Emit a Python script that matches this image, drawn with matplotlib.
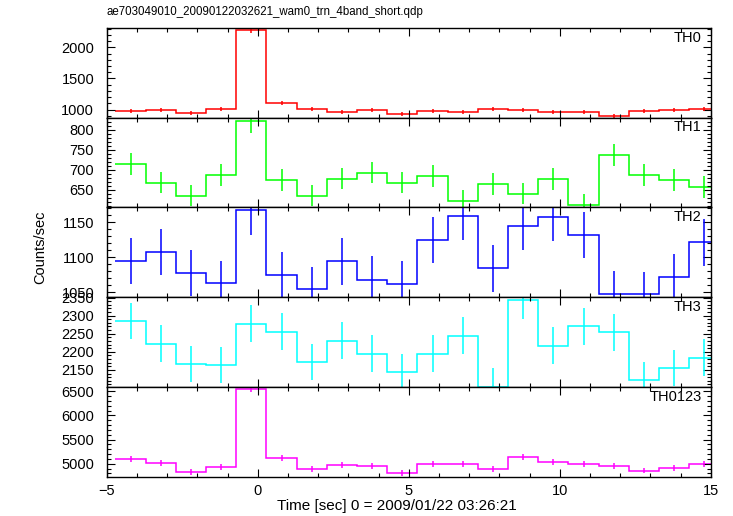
import matplotlib
matplotlib.use("Agg")
import matplotlib.pyplot as plt
from matplotlib.ticker import MultipleLocator

TITLE = "ae703049010_20090122032621_wam0_trn_4band_short.qdp"
XLABEL = "Time [sec] 0 = 2009/01/22 03:26:21"
YLABEL = "Counts/sec"

# bin edges and centres (sec), 1 s bins
edges = [-4.71, -3.71, -2.71, -1.71, -0.71, 0.29, 1.29, 2.29, 3.29, 4.29, 5.29,
         6.29, 7.29, 8.29, 9.29, 10.29, 11.29, 12.29, 13.29, 14.29, 15.29]
centers = [-4.21, -3.21, -2.21, -1.21, -0.21, 0.79, 1.79, 2.79, 3.79, 4.79,
           5.79, 6.79, 7.79, 8.79, 9.79, 10.79, 11.79, 12.79, 13.79, 14.79]

th0 = [984, 995, 942, 1006, 2281, 1108, 1011, 963, 990, 926,
       979, 963, 1006, 990, 963, 963, 898, 979, 995, 1006]
th0_err = [33, 33, 32, 33, 45, 34, 33, 32, 33, 32,
           33, 32, 33, 33, 32, 32, 31, 33, 33, 33]

th1 = [715, 668, 635, 687, 822, 674, 635, 678, 693, 668,
       684, 623, 664, 640, 677, 613, 737, 687, 675, 657]
th1_err = [27, 27, 26, 27, 30, 27, 26, 27, 27, 27,
           27, 26, 27, 26, 27, 26, 28, 27, 27, 27]

th2 = [1095, 1107, 1077, 1063, 1167, 1074, 1054, 1094, 1068, 1062,
       1124, 1158, 1084, 1144, 1157, 1132, 1048, 1047, 1072, 1121]
th2_err = [33, 33, 33, 32, 35, 33, 32, 33, 33, 32,
           33, 34, 33, 34, 34, 33, 32, 32, 33, 33]

th3 = [2285, 2222, 2166, 2163, 2278, 2256, 2171, 2231, 2195, 2144,
       2195, 2245, 2104, 2343, 2217, 2270, 2254, 2121, 2156, 2184]
th3_err = [51, 51, 50, 50, 51, 51, 50, 51, 51, 50,
           51, 51, 50, 52, 51, 51, 51, 50, 50, 51]

th0123 = [5097, 5015, 4831, 4933, 6555, 5117, 4893, 4981, 4960, 4811,
          4995, 5001, 4893, 5138, 5036, 4995, 4954, 4858, 4913, 4995]
th0123_err = [60, 60, 58, 59, 70, 60, 59, 59, 59, 58,
              59, 59, 59, 60, 60, 59, 59, 58, 59, 59]

panels = [
    ("TH0", th0, th0_err, "#ff0000", (871, 2315), 500, 100),
    ("TH1", th1, th1_err, "#00ff00", (606, 831), 50, 10),
    ("TH2", th2, th2_err, "#0000ff", (1043, 1171), 50, 10),
    ("TH3", th3, th3_err, "#00ffff", (2103, 2351), 50, 10),
    ("TH0123", th0123, th0123_err, "#ff00ff", (4733, 6590), 500, 100),
]


def main():
    plt.rcParams["font.family"] = ["Liberation Sans", "DejaVu Sans"]
    fig = plt.figure(figsize=(7.33, 5.16), dpi=100)

    left = 106.7 / 733
    width = (710.7 - 106.7) / 733
    top_px = 27.8
    h_px = (476.7 - 27.8) / 5

    for i, (name, vals, errs, color, ylim, major, minor) in enumerate(panels):
        y0 = 1 - (top_px + (i + 1) * h_px) / 516
        ax = fig.add_axes([left, y0, width, h_px / 516])
        ax.stairs(vals, edges, baseline=None, color=color, lw=1.1)
        ax.errorbar(centers, vals, yerr=errs, fmt="none", ecolor=color,
                    elinewidth=1.1, capsize=0)
        ax.set_xlim(-5, 15)
        ax.set_ylim(*ylim)
        ax.xaxis.set_major_locator(MultipleLocator(5))
        ax.xaxis.set_minor_locator(MultipleLocator(1))
        ax.yaxis.set_major_locator(MultipleLocator(major))
        ax.yaxis.set_minor_locator(MultipleLocator(minor))
        ax.tick_params(which="both", direction="in", top=True, right=True,
                       labelsize=10.5, width=0.8)
        ax.tick_params(which="major", length=6)
        ax.tick_params(which="minor", length=3)
        ax.tick_params(axis="y", pad=9)
        ax.tick_params(axis="x", pad=5)
        for sp in ax.spines.values():
            sp.set_linewidth(1)
        if i < len(panels) - 1:
            ax.tick_params(labelbottom=False)
        ax.text(0.985, 0.89, name, transform=ax.transAxes, ha="right",
                va="center", fontsize=10.5)

    fig.text(left, 1 - 12 / 516, TITLE, ha="left", va="center", fontsize=8.3)
    fig.text(397 / 733, 1 - 506 / 516, XLABEL, ha="center",
             va="center", fontsize=11)
    fig.text(40 / 733, 1 - 247 / 516, YLABEL, ha="center", va="center",
             rotation=90, fontsize=10.5)

    fig.savefig("out.png", dpi=100)
    plt.close(fig)


if __name__ == "__main__":
    main()
